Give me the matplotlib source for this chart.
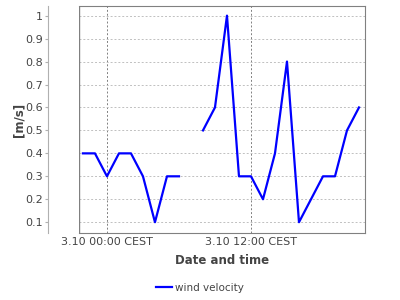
import matplotlib
matplotlib.use('Agg')
from matplotlib import pyplot as plt
import numpy as np

# hours relative to 3.10 00:00 CEST
hours = list(range(-2, 22))
speed = [0.4, 0.4, 0.3, 0.4, 0.4, 0.3, 0.1, 0.3, 0.3, np.nan, 0.5, 0.6,
         1.0, 0.3, 0.3, 0.2, 0.4, 0.8, 0.1, 0.2, 0.3, 0.3, 0.5, 0.6]
tick_hours = [0, 12]
tick_labels = ['3.10 00:00 CEST', '3.10 12:00 CEST']
y_ticks = [0.1, 0.2, 0.3, 0.4, 0.5, 0.6, 0.7, 0.8, 0.9, 1]

plt.rcParams['font.family'] = 'DejaVu Sans'
txt = '#444444'

fig = plt.figure(figsize=(4, 3), dpi=100)
ax = fig.add_axes([0.1975, 0.2233, 0.715, 0.7567])

ax.plot(hours, speed, color='#0000ff', linewidth=1.6, label='wind velocity')

ax.set_xlim(-2.33, 21.5)
ax.set_ylim(0.053, 1.042)
ax.set_xticks(tick_hours)
ax.set_xticklabels(tick_labels)
ax.set_yticks(y_ticks)
ax.set_yticklabels(['0.1', '0.2', '0.3', '0.4', '0.5', '0.6', '0.7', '0.8', '0.9', '1'])

ax.grid(axis='y', color='#c0c0c0', linestyle=(0, (2, 2)), linewidth=0.7)
ax.grid(axis='x', color='#808080', linestyle=(0, (2, 2)), linewidth=0.7)

for s in ['top', 'right', 'bottom']:
    ax.spines[s].set_color('#808080')
ax.spines['left'].set_position(('outward', 22))
ax.spines['left'].set_color('#b0b0b0')
# plot frame on left side
ax.axvline(-2.33, color='#808080', linewidth=1.0)

ax.tick_params(axis='y', length=2, width=0.8, color='#b0b0b0', labelsize=8, labelcolor=txt, pad=2)
ax.tick_params(axis='x', length=0, labelsize=8, labelcolor=txt, pad=3)

ax.set_xlabel('Date and time', fontsize=8.5, fontweight='bold', color=txt, labelpad=5)
ax.set_ylabel('[m/s]', fontsize=8.5, fontweight='bold', color=txt, labelpad=0)

leg = fig.legend(loc='center', bbox_to_anchor=(0.5, 0.04), frameon=False,
                 fontsize=7.5, handlelength=1.5, handletextpad=0.3)
for t in leg.get_texts():
    t.set_color(txt)

fig.savefig('out.png', dpi=100)
